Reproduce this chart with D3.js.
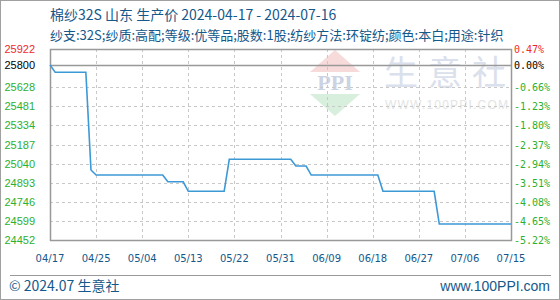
<!DOCTYPE html>
<html><head><meta charset="utf-8">
<script src="https://cdn.jsdelivr.net/npm/d3@7"></script>
<style>
html,body{margin:0;padding:0;background:#fff;}
svg{display:block;}
</style></head>
<body>
<svg id="c" width="560" height="300"></svg>
<script>
// ---- data ----
const titleText = "棉纱32S 山东 生产价 2024-04-17 - 2024-07-16";
const subtitleText = "纱支:32S;纱质:高配;等级:优等品;股数:1股;纺纱方法:环锭纺;颜色:本白;用途:针织";
const startDate = "2024-04-17";
const pointDates = ["2024-04-17","2024-04-18","2024-04-24","2024-04-25","2024-04-26","2024-05-09","2024-05-10","2024-05-13","2024-05-14","2024-05-21","2024-05-22","2024-06-03","2024-06-04","2024-06-06","2024-06-07","2024-06-20","2024-06-21","2024-07-01","2024-07-02","2024-07-16"];
const pointValues = [25800,25743,25743,24991,24952,24952,24900,24900,24827,24827,25073,25073,25021,25021,24952,24952,24827,24827,24575,24575];
const basePrice = 25800;
const yTicks = [25922,25800,25628,25481,25334,25187,25040,24893,24746,24599,24452];
const yRightLabels = ["0.47%","0.00%","-0.66%","-1.23%","-1.80%","-2.37%","-2.94%","-3.51%","-4.08%","-4.65%","-5.22%"];
const xTickLabels = ["04/17","04/25","05/04","05/13","05/22","05/31","06/09","06/18","06/27","07/06","07/15"];
const xTickStep = 9;
const totalDays = 90;

// ---- layout ----
const svg = d3.select("#c");
const L = 50, R = 511, T = 49, B = 240;
const parse = d3.timeParse("%Y-%m-%d");
const d0 = parse(startDate);
const x = d3.scaleLinear().domain([0, totalDays]).range([L, R]);
const y = d3.scaleLinear().domain([24452, 25922]).range([B, T]);

// outer border
svg.append("rect").attr("x",0.5).attr("y",0.5).attr("width",559).attr("height",299)
  .attr("fill","#fff").attr("stroke","#a0a0a0");

// titles
svg.append("text").attr("x",50).attr("y",20).text(titleText)
  .attr("font-family","'Noto Sans CJK SC', sans-serif").attr("font-size",14).attr("fill","#15588a");
svg.append("text").attr("x",50).attr("y",40).text(subtitleText)
  .attr("font-family","'Noto Sans CJK SC', sans-serif").attr("font-size",13).attr("fill","#15588a");

// watermark
const wm = svg.append("g");
wm.append("polygon").attr("points","335,50 310,72 360,72").attr("fill","#f7dada");
wm.append("text").attr("x",335).attr("y",90).attr("text-anchor","middle").text("PPI")
  .attr("font-family","'Liberation Serif', serif").attr("font-weight","bold").attr("font-size",22).attr("fill","#ccd3e4");
wm.append("polygon").attr("points","310,94 360,94 335,116").attr("fill","#d9efdd");
wm.append("text").attr("x",384).attr("y",85).text("生意社")
  .attr("font-family","'Noto Sans CJK SC', sans-serif").attr("font-size",34).attr("letter-spacing",10).attr("fill","#dae0ec");
wm.append("text").attr("x",385).attr("y",109).text("WWW.100PPI.COM")
  .attr("font-family","'Liberation Sans', sans-serif").attr("font-size",12).attr("letter-spacing",1.2).attr("fill","#e4e4e4");

// gridlines
const grid = svg.append("g").attr("stroke","#c8c8c8").attr("stroke-dasharray","3,3").attr("shape-rendering","crispEdges");
yTicks.forEach(v => {
  if (v === 25922 || v === 24452 || v === basePrice) return;
  grid.append("line").attr("x1",L).attr("x2",R).attr("y1",Math.round(y(v))+0.5).attr("y2",Math.round(y(v))+0.5);
});
xTickLabels.forEach((t,i) => {
  const xi = i*xTickStep;
  if (xi === 0 || xi === totalDays) return;
  grid.append("line").attr("y1",T).attr("y2",B).attr("x1",Math.round(x(xi))+0.5).attr("x2",Math.round(x(xi))+0.5);
});

// base line
svg.append("line").attr("x1",L).attr("x2",R).attr("y1",Math.round(y(basePrice))+0.5).attr("y2",Math.round(y(basePrice))+0.5)
  .attr("stroke","#999").attr("stroke-width",1.5);

// frame
svg.append("rect").attr("x",L+0.5).attr("y",T+0.5).attr("width",R-L).attr("height",B-T)
  .attr("fill","none").attr("stroke","#999").attr("stroke-width",1.5);

// line
const pts = pointDates.map((d,i) => ({i: d3.timeDay.count(d0, parse(d)), v: pointValues[i]}));
svg.append("path").datum(pts)
  .attr("d", d3.line().x(d => x(d.i)).y(d => y(d.v)))
  .attr("fill","none").attr("stroke","#3d98d6").attr("stroke-width",1.6);

// left axis labels
yTicks.forEach((v,i) => {
  const col = i===0 ? "#ee2a2a" : (v===basePrice ? "#000" : "#2db02d");
  svg.append("text").attr("x",35).attr("y",y(v)+4).attr("text-anchor","end").text(v)
    .attr("font-family","'Liberation Sans', sans-serif").attr("font-size",11).attr("fill",col);
  svg.append("text").attr("x",514).attr("y",y(v)+4).text(yRightLabels[i])
    .attr("font-family","'DejaVu Sans Mono', monospace").attr("font-size",10).attr("fill",col);
});

// x labels
xTickLabels.forEach((t,i) => {
  svg.append("text").attr("x",x(i*xTickStep)).attr("y",262).attr("text-anchor","middle").text(t)
    .attr("font-family","'DejaVu Sans', sans-serif").attr("font-size",10).attr("fill","#15588a");
});

// footer
svg.append("line").attr("x1",10).attr("x2",551).attr("y1",275.5).attr("y2",275.5).attr("stroke","#999");
svg.append("text").attr("x",9).attr("y",291).text("© 2024.07 生意社")
  .attr("font-family","'Noto Sans CJK SC', sans-serif").attr("font-size",14).attr("fill","#15588a");
svg.append("text").attr("x",550).attr("y",291).attr("text-anchor","end").text("www.100PPI.com")
  .attr("font-family","'Liberation Sans', sans-serif").attr("font-size",14).attr("fill","#15588a");
</script>
</body></html>
